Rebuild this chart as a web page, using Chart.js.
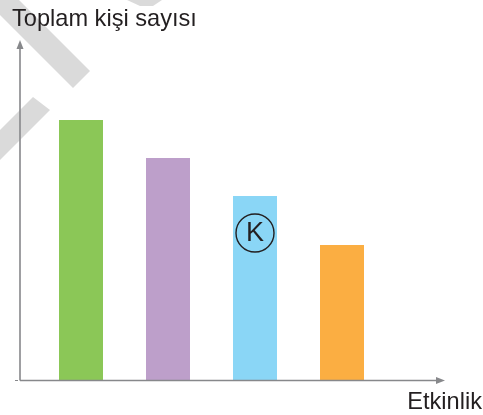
<!DOCTYPE html>
<html>
<head>
<meta charset="utf-8">
<script src="https://cdn.jsdelivr.net/npm/chart.js@4"></script>
<style>
    html, body { margin: 0; padding: 0; background: #ffffff; }
    #divChart { width: 483px; height: 415px; position: relative; }
</style>
</head>
<body>
<div id="divChart"><canvas id="activityChart"></canvas></div>
<script>
var _labels = ['1', '2', '3', '4'];
var _values = [26, 22.2, 18.4, 13.5];
var _colors = ['#8bc757', '#bd9fca', '#8ad6f6', '#fbae42'];
var _yMax = 34;
var _titleY = 'Toplam kişi sayısı';
var _titleX = 'Etkinlik';
var _markIndex = 2;
var _markText = 'K';

var AXIS_COLOR = '#87888b';
var TEXT_COLOR = '#231f20';
var FONT = '"Liberation Sans", Arial, sans-serif';

function drawWatermark(ctx) {
    ctx.save();
    ctx.fillStyle = '#dadada';
    // down-right stripe
    ctx.beginPath();
    ctx.moveTo(-1.5, -20.5);
    ctx.lineTo(90, 71);
    ctx.lineTo(73, 88);
    ctx.lineTo(-18.5, -3.5);
    ctx.closePath();
    ctx.fill();
    // up-right stripe
    ctx.beginPath();
    ctx.moveTo(-10, 140);
    ctx.lineTo(33, 97);
    ctx.lineTo(50, 110);
    ctx.lineTo(-10, 170);
    ctx.closePath();
    ctx.fill();
    // small piece at the top
    ctx.beginPath();
    ctx.moveTo(127, 0);
    ctx.lineTo(162, 0);
    ctx.lineTo(153, 6);
    ctx.lineTo(140, 6);
    ctx.closePath();
    ctx.fill();
    ctx.restore();
}

function drawAxes(ctx) {
    ctx.save();
    ctx.strokeStyle = AXIS_COLOR;
    ctx.fillStyle = AXIS_COLOR;
    ctx.lineWidth = 1.6;
    ctx.beginPath();
    ctx.moveTo(20, 380.5);
    ctx.lineTo(20, 47);
    ctx.moveTo(20, 380.5);
    ctx.lineTo(438, 380.5);
    ctx.stroke();
    // arrow heads
    ctx.beginPath();
    ctx.moveTo(20, 40);
    ctx.lineTo(23.5, 49);
    ctx.lineTo(16.5, 49);
    ctx.closePath();
    ctx.fill();
    ctx.beginPath();
    ctx.moveTo(445, 380.5);
    ctx.lineTo(436, 377);
    ctx.lineTo(436, 384);
    ctx.closePath();
    ctx.fill();
    // tiny tick
    ctx.lineWidth = 1;
    ctx.beginPath();
    ctx.moveTo(15, 380.5);
    ctx.lineTo(18, 380.5);
    ctx.stroke();
    ctx.restore();
}

function drawTitles(ctx) {
    ctx.save();
    ctx.fillStyle = TEXT_COLOR;
    ctx.font = '23.6px ' + FONT;
    ctx.textBaseline = 'alphabetic';
    ctx.textAlign = 'left';
    ctx.fillText(_titleY, 12, 26);
    ctx.textAlign = 'right';
    ctx.fillText(_titleX, 482, 409);
    ctx.restore();
}

function drawMark(chart) {
    var ctx = chart.ctx;
    var bar = chart.getDatasetMeta(0).data[_markIndex];
    var cx = bar.x;
    var cy = bar.y + 37;
    ctx.save();
    ctx.strokeStyle = TEXT_COLOR;
    ctx.lineWidth = 1.4;
    ctx.beginPath();
    ctx.arc(cx, cy, 19, 0, Math.PI * 2);
    ctx.stroke();
    ctx.fillStyle = TEXT_COLOR;
    ctx.font = '27px ' + FONT;
    ctx.textAlign = 'center';
    ctx.textBaseline = 'middle';
    ctx.fillText(_markText, cx, cy + 1);
    ctx.restore();
}

var decorPlugin = {
    id: 'decor',
    beforeDraw: function (chart) {
        drawWatermark(chart.ctx);
    },
    afterDraw: function (chart) {
        drawAxes(chart.ctx);
        drawTitles(chart.ctx);
        drawMark(chart);
    }
};

new Chart(document.getElementById('activityChart'), {
    type: 'bar',
    data: {
        labels: _labels,
        datasets: [{
            data: _values,
            backgroundColor: _colors,
            borderWidth: 0,
            categoryPercentage: 1,
            barPercentage: 44 / 87
        }]
    },
    options: {
        responsive: true,
        maintainAspectRatio: false,
        animation: false,
        layout: {
            padding: { left: 37.5, right: 97.5, top: 40, bottom: 35 }
        },
        plugins: {
            legend: { display: false },
            tooltip: { enabled: false }
        },
        scales: {
            x: { display: false },
            y: { display: false, min: 0, max: _yMax }
        }
    },
    plugins: [decorPlugin]
});
</script>
</body>
</html>
